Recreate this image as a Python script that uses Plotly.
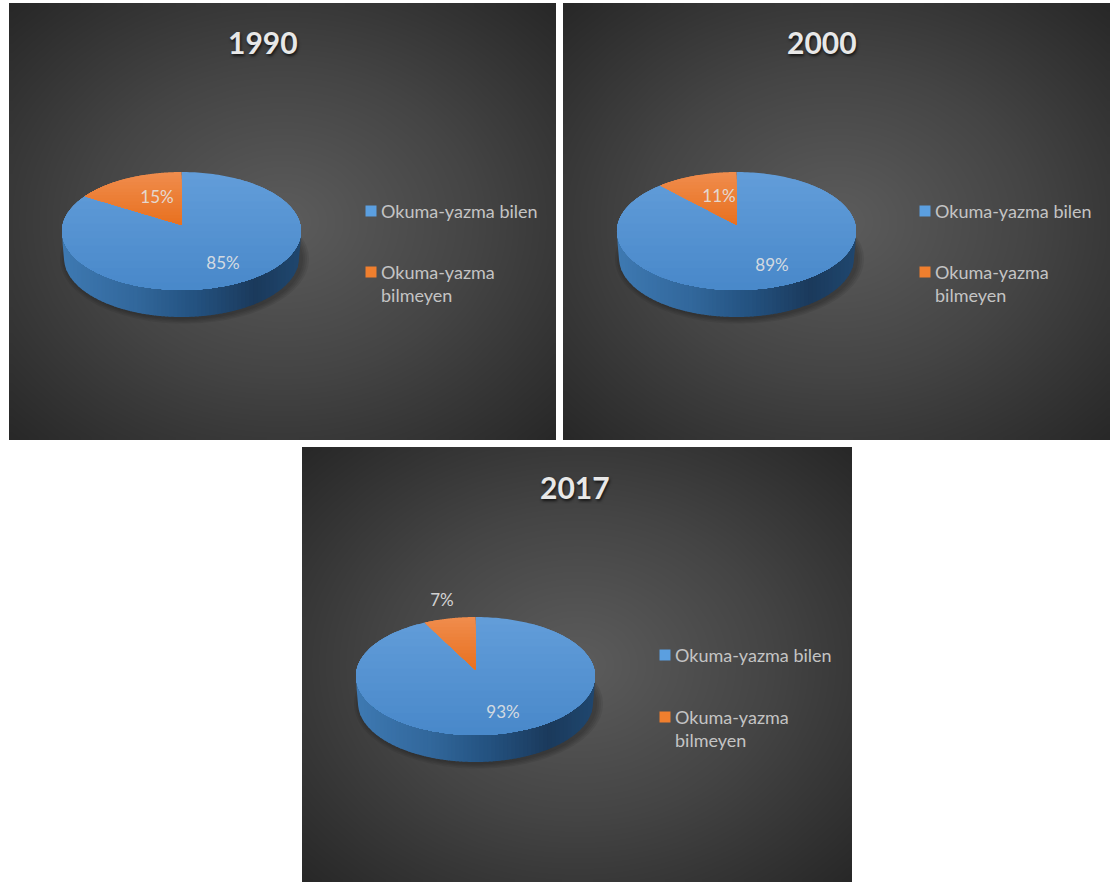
import numpy as np
import plotly.graph_objects as go

# ---- data ----
years = ["1990", "2000", "2017"]
literate = [85, 89, 93]
illiterate = [15, 11, 7]
legend_labels = ["Okuma-yazma bilen", "Okuma-yazma<br>bilmeyen"]

# ---- layout of the three panels (x0, y0, x1, y1 in page pixels) ----
PANELS = [(9, 3, 556, 440), (563, 3, 1110, 440), (302, 447, 852, 882)]
PIE_CENTRE = [(181.5, 231), (736.5, 231), (475.5, 676)]
TITLE_POS = [(263, 42), (822, 42), (575, 487)]
LEG_X = [371, 925, 665]
LEG_Y = [(211, 272), (211, 272), (655, 717)]
LABEL_POS = [((223, 265), (157, 199)), ((772, 267), (719, 198)), ((503, 714), (442, 602))]
RX, RY, DEPTH, APEX_UP = 119.5, 59, 27, 6
FONT = "Lato"

BLUE_T, BLUE_B = (98, 157, 217), (72, 136, 201)
ORNG_T, ORNG_B = (240, 140, 76), (232, 112, 30)
WALL_STOPS = [(0.0, (62, 121, 178)), (0.3, (50, 104, 156)), (0.55, (36, 82, 128)),
              (0.8, (27, 58, 92)), (1.0, (32, 72, 112))]


def mix(a, b, t):
    return "rgb(%d,%d,%d)" % tuple(a[i] + (b[i] - a[i]) * t for i in range(3))


def wall_colour(t):
    for (t0, c0), (t1, c1) in zip(WALL_STOPS, WALL_STOPS[1:]):
        if t <= t1:
            return mix(c0, c1, (t - t0) / (t1 - t0))
    return mix(WALL_STOPS[-1][1], WALL_STOPS[-1][1], 0)


def poly(x, y, colour):
    return go.Scatter(x=x, y=y, mode="lines", fill="toself", fillcolor=colour,
                      line=dict(width=0, simplify=False), hoverinfo="skip", showlegend=False)


def sector(cx, cy, start, end):
    """Slice outline with densely sampled straight edges so it can be clipped by clamping y."""
    th = np.radians(np.linspace(start, end, 241))
    ax, ay = cx, cy - APEX_UP
    ex, ey = cx + RX * np.sin(th), cy - RY * np.cos(th)
    s = np.linspace(0, 1, 120)
    x = np.r_[ax + (ex[0] - ax) * s, ex, ex[-1] + (ax - ex[-1]) * s]
    y = np.r_[ay + (ey[0] - ay) * s, ey, ey[-1] + (ay - ey[-1]) * s]
    return x, y


fig = go.Figure()

for i, year in enumerate(years):
    x0, y0, x1, y1 = PANELS[i]
    cx, cy = PIE_CENTRE[i]

    # panel background: radial dark gradient (cell centres inset so the image ends at the panel edge)
    nx, ny = 80, 70
    dx, dy = (x1 - x0) / nx, (y1 - y0) / ny
    gx = x0 + dx * (np.arange(nx) + 0.5)
    gy = y0 + dy * (np.arange(ny) + 0.5)
    X, Y = np.meshgrid(gx, gy)
    R = np.hypot((X - (x0 + x1) / 2) / ((x1 - x0) / 2), (Y - (y0 + y1) / 2) / ((y1 - y0) / 2)) / np.sqrt(2)
    fig.add_trace(go.Heatmap(x=gx, y=gy, z=R, zmin=0, zmax=1, zsmooth="best", showscale=False,
                             hoverinfo="skip",
                             colorscale=[[0, "#5c5c5c"], [0.5, "#444444"], [1, "#272727"]]))

    # soft shadow under the pie
    for grow in (8, 6, 4, 2):
        th = np.linspace(0, 2 * np.pi, 120)
        fig.add_trace(poly(cx + 3 + (RX - 3 + grow) * np.cos(th),
                           cy + DEPTH + 1 + (RY + grow * 0.7) * np.sin(th),
                           "rgba(0,0,0,0.07)"))

    # side wall: strips across the front edge
    n_strips = 60
    edges = np.linspace(cx - RX, cx + RX, n_strips + 1)
    for k in range(n_strips):
        xs = np.linspace(edges[k], min(edges[k + 1] + 1, cx + RX), 8)
        top = cy + RY * np.sqrt(np.clip(1 - ((xs - cx) / RX) ** 2, 0, 1))
        full = cy + DEPTH + RY * np.sqrt(np.clip(1 - ((xs - cx) / (RX - 2)) ** 2, 0, 1))
        ramp = np.clip((RX - np.abs(xs - cx)) / 2, 0, 1)
        bot = top + (full - top) * ramp
        fig.add_trace(poly(np.r_[xs, xs[::-1]], np.r_[top, bot[::-1]], wall_colour(k / n_strips)))

    # top surface: slices computed from the values, shaded in horizontal bands
    a = literate[i] / (literate[i] + illiterate[i]) * 360
    bx, by = sector(cx, cy, 0, a)
    ox, oy = sector(cx, cy, a, 360)
    for t in np.linspace(0, 1, 16, endpoint=False):
        level = cy - RY + 2 * RY * t
        fig.add_trace(poly(bx, np.maximum(by, level), mix(BLUE_T, BLUE_B, t)))
    for t in np.linspace(0, 1, 16, endpoint=False):
        level = cy - RY + (RY - APEX_UP) * t
        fig.add_trace(poly(ox, np.maximum(oy, level), mix(ORNG_T, ORNG_B, t)))

    # percentage labels
    vals = (literate[i], illiterate[i])
    fig.add_trace(go.Scatter(x=[p[0] for p in LABEL_POS[i]], y=[p[1] for p in LABEL_POS[i]],
                             mode="text", text=[f"{v}%" for v in vals], hoverinfo="skip",
                             showlegend=False,
                             textfont=dict(family=FONT, size=17, color="rgba(228,228,228,0.9)")))

    # legend
    fig.add_trace(go.Scatter(x=[LEG_X[i], LEG_X[i]], y=list(LEG_Y[i]), mode="markers",
                             marker=dict(symbol="square", size=11, color=["#5b9fe0", "#f07f2e"]),
                             hoverinfo="skip", showlegend=False))
    for lab, ly in zip(legend_labels, LEG_Y[i]):
        fig.add_annotation(x=LEG_X[i] + 9, y=ly - 13, text=lab, showarrow=False, xanchor="left",
                           yanchor="top", align="left", xshift=-1,
                           font=dict(family=FONT, size=18, color="#c4c4c4"))

    # title
    fig.add_annotation(x=TITLE_POS[i][0], y=TITLE_POS[i][1], text=f"<b>{year}</b>", showarrow=False,
                       font=dict(family=FONT, size=30, color="#e8e8e8",
                                 shadow="1px 2px 3px rgba(0,0,0,0.7)"))

fig.update_layout(
    width=1110, height=882, margin=dict(l=0, r=0, t=0, b=0),
    paper_bgcolor="white", plot_bgcolor="white", showlegend=False,
    xaxis=dict(range=[0, 1110], visible=False, fixedrange=True),
    yaxis=dict(range=[882, 0], visible=False, fixedrange=True),
)

fig.write_html("out.html", config=dict(displayModeBar=False),
               post_script="document.body.style.margin='0';document.body.style.overflow='hidden';")
